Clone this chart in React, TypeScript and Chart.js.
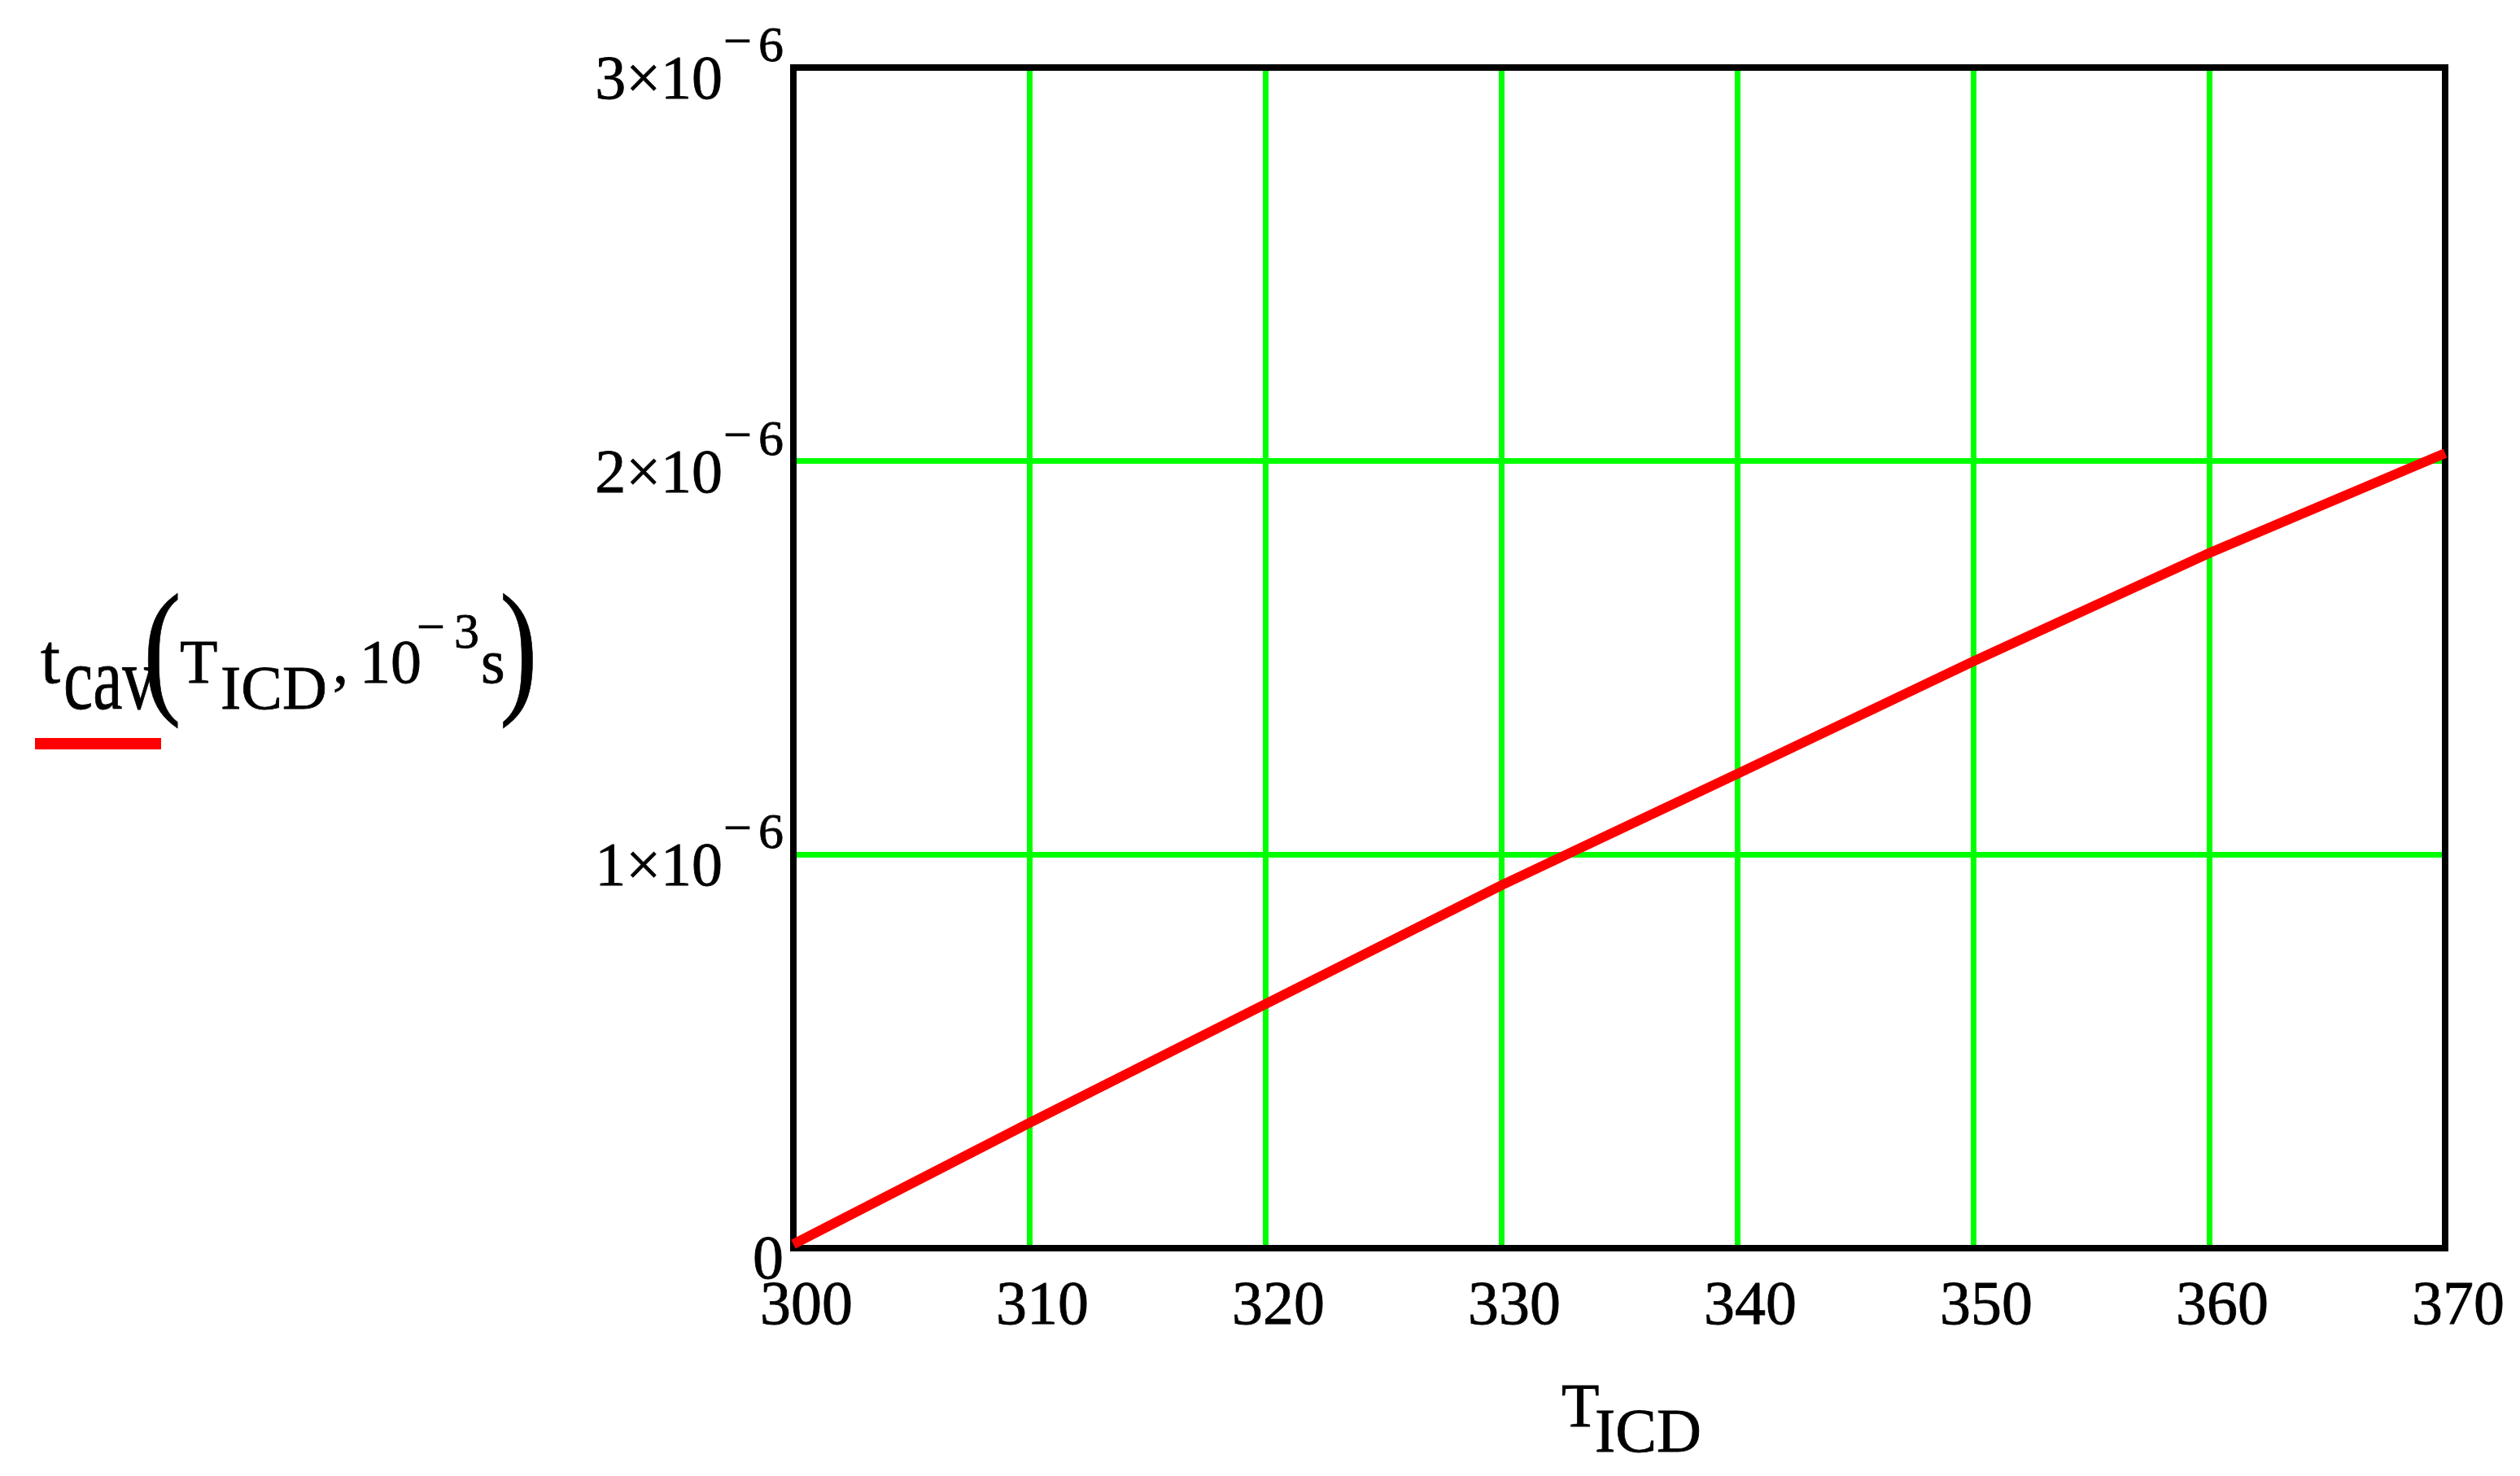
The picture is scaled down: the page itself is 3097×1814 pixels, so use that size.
import React, { useEffect, useRef } from "react";
import { Chart, registerables } from "chart.js";

Chart.register(...registerables);

// ---- data ----
const tIcd = [300, 310, 320, 330, 340, 350, 360, 370];
const tCav = [0.01e-6, 0.318e-6, 0.62e-6, 0.922e-6, 1.205e-6, 1.491e-6, 1.766e-6, 2.02e-6];

const xTicks = [300, 310, 320, 330, 340, 350, 360, 370];
const xTickLabels = ["300", "310", "320", "330", "340", "350", "360", "370"];

const yTicks = [0, 1e-6, 2e-6, 3e-6];
const yTickMantissa = ["0", "1×10", "2×10", "3×10"];
const yTickExponent = ["", "−6", "−6", "−6"];

const FONT = "'Liberation Serif', 'Times New Roman', serif";
const W = 3097;
const H = 1814;
const MAIN = 76;
const SUP = 62;

function txt(
  ctx: CanvasRenderingContext2D,
  s: string,
  x: number,
  y: number,
  size: number,
  align: CanvasTextAlign = "left",
  sx = 1
) {
  ctx.save();
  ctx.font = `${size}px ${FONT}`;
  ctx.textAlign = align;
  ctx.textBaseline = "alphabetic";
  ctx.fillStyle = "#000";
  ctx.strokeStyle = "#000";
  ctx.lineWidth = 0.8;
  ctx.translate(x, y);
  ctx.scale(sx, 1);
  ctx.fillText(s, 0, 0);
  ctx.strokeText(s, 0, 0);
  ctx.restore();
}

const decorPlugin = {
  id: "decor",
  beforeDatasetsDraw(chart: any) {
    const { ctx, chartArea: a } = chart;
    ctx.save();
    ctx.strokeStyle = "#000";
    ctx.lineWidth = 8;
    ctx.strokeRect(a.left, a.top, a.right - a.left, a.bottom - a.top);
    ctx.restore();
  },
  afterDraw(chart: any) {
    const { ctx } = chart;
    const xs = chart.scales.x;
    const ys = chart.scales.y;

    // x tick labels
    xTicks.forEach((v, i) => {
      const px = xs.getPixelForValue(v);
      txt(ctx, xTickLabels[i], px + 16, 1627, MAIN, "center");
    });

    // y tick labels with superscript exponent
    const rightEdge = 963;
    yTicks.forEach((v, i) => {
      const py = ys.getPixelForValue(v);
      const exp = yTickExponent[i];
      if (!exp) {
        txt(ctx, yTickMantissa[i], rightEdge, py + 37, MAIN, "right");
        return;
      }
      const digits = exp.replace("−", "");
      ctx.save();
      ctx.font = `${SUP}px ${FONT}`;
      const dW = ctx.measureText(digits).width;
      const mW = ctx.measureText("−").width;
      ctx.restore();
      const digitsLeft = rightEdge - dW;
      txt(ctx, digits, digitsLeft, py - 8, SUP, "left");
      const minusLeft = digitsLeft - 8 - mW;
      txt(ctx, "−", minusLeft, py - 12, SUP, "left");
      txt(ctx, yTickMantissa[i], minusLeft - 1, py + 38, MAIN, "right");
    });

    // x axis title T_ICD
    txt(ctx, "T", 1919, 1753, MAIN);
    txt(ctx, "ICD", 1960, 1784, MAIN);

    // legend / y label: t_cav(T_ICD, 10^-3 s)
    txt(ctx, "t", 50, 839, 86);
    txt(ctx, "cav", 78, 871, 110, "left", 0.74);
    txt(ctx, "(", 176, 856, 182, "left", 0.77);
    txt(ctx, "T", 221, 839, MAIN);
    txt(ctx, "ICD", 271, 871, MAIN);
    txt(ctx, ",", 409, 839, MAIN);
    txt(ctx, "10", 442, 839, MAIN);
    txt(ctx, "−", 512, 791, SUP);
    txt(ctx, "3", 558, 796, SUP);
    txt(ctx, "s", 591, 839, MAIN);
    txt(ctx, ")", 614, 856, 182, "left", 0.77);

    ctx.save();
    ctx.fillStyle = "#FF0000";
    ctx.fillRect(43, 907, 155, 14);
    ctx.restore();
  },
};

export default function App() {
  const ref = useRef<HTMLCanvasElement | null>(null);

  useEffect(() => {
    document.body.style.margin = "0";
    document.body.style.background = "#fff";
    const canvas = ref.current;
    if (!canvas) return;
    const chart = new Chart(canvas, {
      type: "scatter",
      data: {
        datasets: [
          {
            label: "tcav",
            data: tIcd.map((x, i) => ({ x, y: tCav[i] })),
            showLine: true,
            borderColor: "#FF0000",
            backgroundColor: "#FF0000",
            borderWidth: 12,
            pointRadius: 0,
            tension: 0,
            clip: false as any,
          },
        ],
      },
      options: {
        animation: false,
        responsive: false,
        devicePixelRatio: 1,
        layout: {
          padding: { left: 975, top: 83, right: W - 3005, bottom: H - 1534 },
        },
        plugins: {
          legend: { display: false },
          tooltip: { enabled: false },
          title: { display: false },
        },
        scales: {
          x: {
            type: "linear",
            min: 300,
            max: 370,
            afterBuildTicks: (s: any) => {
              s.ticks = xTicks.map((v) => ({ value: v }));
            },
            ticks: { display: false, padding: 0 },
            grid: { color: "#00FF00", lineWidth: 7, drawTicks: false },
            border: { display: false },
          },
          y: {
            type: "linear",
            min: 0,
            max: 3e-6,
            afterBuildTicks: (s: any) => {
              s.ticks = yTicks.map((v) => ({ value: v }));
            },
            ticks: { display: false, padding: 0 },
            grid: { color: "#00FF00", lineWidth: 7, drawTicks: false },
            border: { display: false },
          },
        },
      },
      plugins: [decorPlugin],
    });
    return () => chart.destroy();
  }, []);

  return (
    <canvas
      ref={ref}
      width={W}
      height={H}
      style={{ display: "block", width: W, height: H, background: "#fff" }}
    />
  );
}
